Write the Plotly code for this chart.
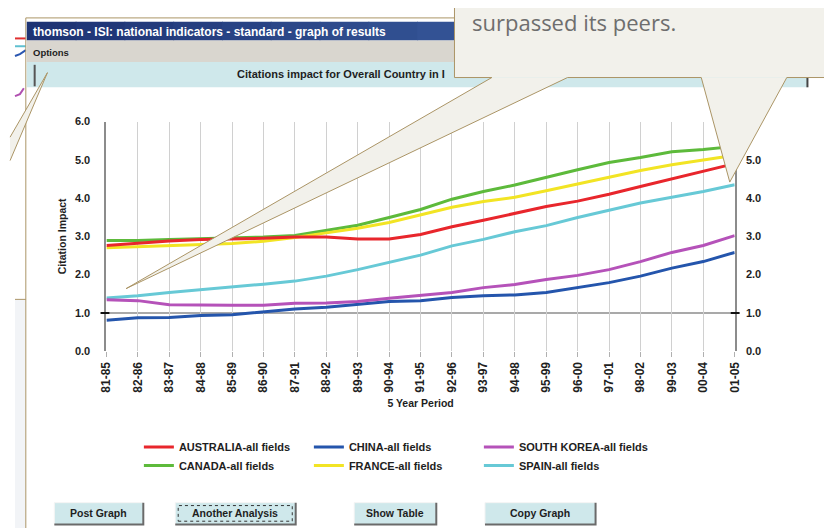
import plotly.graph_objects as go

W, H = 832, 528

def X(p):
    return p / W

def Y(p):
    return 1 - p / H

def path(points, close=False):
    s = "M " + " L ".join(f"{X(a):.5f},{Y(b):.5f}" for a, b in points)
    return s + (" Z" if close else "")

# ---------------- data ----------------
periods = ["81-85", "82-86", "83-87", "84-88", "85-89", "86-90", "87-91",
           "88-92", "89-93", "90-94", "91-95", "92-96", "93-97", "94-98",
           "95-99", "96-00", "97-01", "98-02", "99-03", "00-04", "01-05"]

australia = [2.76, 2.82, 2.88, 2.92, 2.93, 2.95, 2.98, 2.98, 2.93, 2.93, 3.05,
             3.25, 3.42, 3.60, 3.78, 3.92, 4.10, 4.30, 4.50, 4.70, 4.90]
canada = [2.89, 2.89, 2.92, 2.94, 2.96, 2.98, 3.02, 3.15, 3.29, 3.49, 3.70,
          3.97, 4.17, 4.34, 4.55, 4.74, 4.93, 5.06, 5.21, 5.27, 5.35]
france = [2.70, 2.73, 2.76, 2.78, 2.81, 2.87, 2.97, 3.09, 3.21, 3.36, 3.55,
          3.76, 3.91, 4.02, 4.19, 4.36, 4.55, 4.72, 4.87, 4.99, 5.12]
spain = [1.39, 1.45, 1.53, 1.60, 1.68, 1.75, 1.83, 1.96, 2.13, 2.32, 2.51,
         2.75, 2.92, 3.12, 3.28, 3.49, 3.68, 3.87, 4.02, 4.17, 4.35]
south_korea = [1.34, 1.32, 1.21, 1.20, 1.20, 1.20, 1.25, 1.26, 1.30, 1.38, 1.45,
               1.53, 1.66, 1.74, 1.87, 1.98, 2.13, 2.34, 2.58, 2.76, 3.02]
china = [0.81, 0.875, 0.88, 0.93, 0.95, 1.02, 1.10, 1.15, 1.23, 1.30, 1.32,
         1.40, 1.45, 1.47, 1.53, 1.66, 1.79, 1.96, 2.17, 2.34, 2.58]

y_ticks = [0, 1, 2, 3, 4, 5, 6]
buttons = ["Post Graph", "Another Analysis", "Show Table", "Copy Graph"]

# draw order (Australia on top), legend placement by rank
series = [
    ("CANADA-all fields", canada, "#5dba3b", "legend2", 1),
    ("FRANCE-all fields", france, "#f2e424", "legend2", 2),
    ("SPAIN-all fields", spain, "#67c9d6", "legend2", 3),
    ("CHINA-all fields", china, "#2455ac", "legend", 2),
    ("SOUTH KOREA-all fields", south_korea, "#b552b9", "legend", 3),
    ("AUSTRALIA-all fields", australia, "#e8262c", "legend", 1),
]

FONT = "Liberation Sans"
DARK = "#1e1e1e"

fig = go.Figure()
for name, vals, col, leg, rank in series:
    fig.add_trace(go.Scatter(
        x=periods, y=vals, name=name, mode="lines",
        line=dict(color=col, width=3),
        legend=leg, legendrank=rank, cliponaxis=False, hoverinfo="skip"))

# invisible trace on right axis so it is drawn
fig.add_trace(go.Scatter(x=periods, y=china, yaxis="y2", mode="lines",
                         line=dict(width=0), showlegend=False, hoverinfo="skip",
                         opacity=0))

ytickfont = dict(family=FONT, size=11, color=DARK, weight="bold")
xtickfont = dict(family=FONT, size=12, color=DARK, weight="bold")
titlefont = dict(family=FONT, size=10.5, color=DARK, weight="bold")
legfont = dict(family=FONT, size=11, color=DARK, weight="bold")

fig.update_layout(
    width=W, height=H, margin=dict(l=0, r=0, t=0, b=0),
    paper_bgcolor="white", plot_bgcolor="white",
    font=dict(family=FONT, size=10, color=DARK),
    xaxis=dict(domain=[X(93), X(732)], type="category", range=[0, 20],
               showgrid=True, gridcolor="#d0d0d0", gridwidth=1,
               ticks="outside", ticklen=5, tickcolor="#b0b0b0",
               tickangle=-90, tickfont=xtickfont, showline=False, zeroline=False,
               title=dict(text="5 Year Period", font=titlefont, standoff=7),
               fixedrange=True),
    yaxis=dict(domain=[Y(345), Y(110)], range=[0, 6], tickvals=y_ticks,
               tickformat=".1f", showgrid=False, zeroline=False,
               showline=True, linecolor="#8c8c8c", linewidth=2,
               ticks="outside", ticklen=12, tickcolor="rgba(0,0,0,0)",
               tickfont=ytickfont,
               title=dict(text="Citation Impact", font=titlefont, standoff=6)),
    yaxis2=dict(overlaying="y", side="right", anchor="x", range=[0, 6],
                tickvals=y_ticks, tickformat=".1f", showgrid=False,
                zeroline=False, showline=True, linecolor="#8c8c8c",
                linewidth=2, ticks="outside", ticklen=7,
                tickcolor="rgba(0,0,0,0)", tickfont=ytickfont),
    legend=dict(orientation="h", x=X(126), y=Y(443), xanchor="left",
                yanchor="middle", font=legfont,
                entrywidth=125, entrywidthmode="pixels", bgcolor="rgba(0,0,0,0)",
                traceorder="normal"),
    legend2=dict(orientation="h", x=X(126), y=Y(462), xanchor="left",
                 yanchor="middle", font=legfont,
                 entrywidth=125, entrywidthmode="pixels", bgcolor="rgba(0,0,0,0)",
                 traceorder="normal"),
    showlegend=True,
)

shapes = []
TAN = "#ab9566"
BEIGE = "#f2f1eb"

# reference line at 1.0 and its tick marks
shapes.append(dict(type="line", xref="x domain", yref="y", x0=0, x1=1, y0=1, y1=1,
                   line=dict(color="#a9a9a9", width=2), layer="below"))
for xa, xb in [(87, 96), (728, 737)]:
    shapes.append(dict(type="line", xref="paper", yref="y", x0=X(xa), x1=X(xb),
                       y0=1, y1=1, line=dict(color="#111", width=2), layer="above"))

def rect(x0, y0, x1, y1, fill, line=None, lw=0):
    return dict(type="rect", xref="paper", yref="paper", x0=X(x0), x1=X(x1),
                y0=Y(y1), y1=Y(y0), fillcolor=fill,
                line=dict(color=line or fill, width=lw), layer="above")

def seg(points, color, width=1):
    return dict(type="path", xref="paper", yref="paper", path=path(points),
                line=dict(color=color, width=width), layer="above")

# left background strip
shapes.append(rect(0, 292, 11, 530, "#f2f4f7"))
shapes.append(seg([(0, 25), (11, 25)], "#e03030", 2))
shapes.append(seg([(0, 33), (11, 33)], "#60c0d0", 2))
shapes.append(seg([(0, 43), (5, 41), (11, 37)], "#2a56b0", 2))
shapes.append(seg([(0, 84), (5, 82), (9, 76)], "#b050b0", 2))
shapes.append(seg([(0, 292), (11, 292)], TAN, 1))
# window frame
shapes.append(seg([(11, 530), (11, 4), (450, 4)], TAN, 1))
# title bar gradient
c0 = (30, 52, 116)
c1 = (70, 110, 176)
n = 16
for i in range(n):
    t = i / (n - 1)
    col = "rgb(%d,%d,%d)" % tuple(int(c0[k] + (c1[k] - c0[k]) * t) for k in range(3))
    xa = 12 + (806 - 12) * i / n
    xb = 12 + (806 - 12) * (i + 1) / n + 1
    shapes.append(rect(xa, 8, xb, 27, col))
# menu bar and band
shapes.append(rect(12, 27, 806, 49, "#d9d6cf"))
shapes.append(rect(12, 49, 806, 75, "#cfe8eb"))
shapes.append(seg([(20, 52), (20, 74)], "#555", 2))
shapes.append(seg([(806, 49), (806, 75)], "#444", 2))
shapes.append(seg([(825, 75), (825, 528)], "#eeeeee", 1))

# buttons
btn_pos = [(40, 130), (163, 285), (345, 428), (478, 590)]
for i, (xa, xb) in enumerate(btn_pos):
    shapes.append(rect(xa, 500, xb, 522, "#cfe8eb"))
    shapes.append(seg([(xa, 522), (xa, 500), (xb, 500)], "#f4f4f4", 1))
    shapes.append(seg([(xa, 522.5), (xb + 0.5, 522.5), (xb + 0.5, 500)], "#6a6a6a", 2))
    if i == 1:
        shapes.append(dict(type="rect", xref="paper", yref="paper",
                           x0=X(xa + 3), x1=X(xb - 3), y0=Y(519), y1=Y(503),
                           line=dict(color="#333", width=1, dash="dot"),
                           layer="above"))

# callout wedges (fills), box fill, then outlines
w1 = [(485, 65), (113, 281), (562, 65)]
w2 = [(698, 65), (727, 172), (785, 65)]
w3 = [(33, 60), (-5, 126), (-5, 150)]
for w in (w1, w2, w3):
    shapes.append(dict(type="path", xref="paper", yref="paper",
                       path=path(w, close=True), fillcolor=BEIGE,
                       line=dict(width=0), layer="above"))
shapes.append(rect(447, -10, 845, 65, BEIGE))
for w in (w1, w2):
    shapes.append(seg(w, TAN, 1))
shapes.append(seg([(33, 60), (-5, 126)], TAN, 1))
shapes.append(seg([(33, 60), (-5, 150)], TAN, 1))
shapes.append(seg([(447, -10), (447, 65), (485, 65)], TAN, 1))
shapes.append(seg([(562, 65), (698, 65)], TAN, 1))
shapes.append(seg([(785, 65), (845, 65)], TAN, 1))

fig.update_layout(shapes=shapes)

ann = []
def text(x, y, s, size=9, color=DARK, anchor="left", weight="bold", family=FONT):
    ann.append(dict(x=X(x), y=Y(y), xref="paper", yref="paper", text=s,
                    showarrow=False, xanchor=anchor, yanchor="middle",
                    font=dict(family=family, size=size, color=color, weight=weight)))

text(16, 18, "thomson - ISI: national indicators - standard - graph of results",
     size=12, color="white")
text(16, 39, "Options", size=9.5)
text(224, 61, "Citations impact for Overall Country in I", size=11)
for (xa, xb), label in zip(btn_pos, buttons):
    text((xa + xb) / 2, 511, label, size=10.5, anchor="center")
text(463, 8, "surpassed its peers.", size=22, color="#6e6e6e", weight="normal",
     family="Open Sans")

fig.update_layout(annotations=ann)
fig.write_html("out.html")
